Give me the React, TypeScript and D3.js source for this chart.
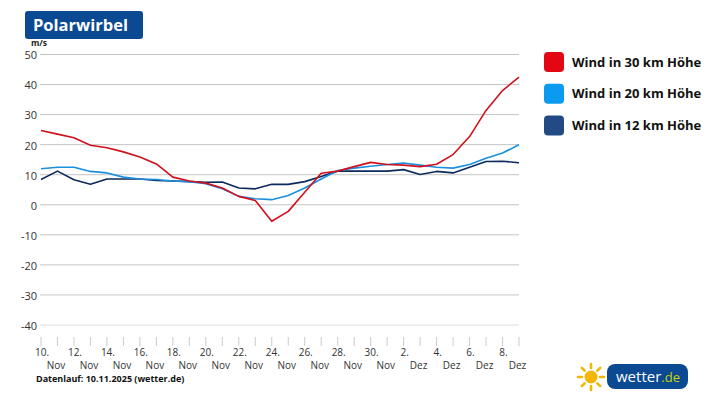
import React from 'react';
import * as d3 from 'd3';

// Days from 10. Nov to 9. Dez
const days = [10, 11, 12, 13, 14, 15, 16, 17, 18, 19, 20, 21, 22, 23, 24, 25, 26, 27, 28, 29, 30, 1, 2, 3, 4, 5, 6, 7, 8, 9];
const months = ['Nov', 'Nov', 'Nov', 'Nov', 'Nov', 'Nov', 'Nov', 'Nov', 'Nov', 'Nov', 'Nov', 'Nov', 'Nov', 'Nov', 'Nov', 'Nov', 'Nov', 'Nov', 'Nov', 'Nov', 'Nov', 'Dez', 'Dez', 'Dez', 'Dez', 'Dez', 'Dez', 'Dez', 'Dez', 'Dez'];

const wind30 = [24.7, 23.5, 22.3, 19.8, 19.0, 17.6, 15.9, 13.6, 9.2, 7.9, 7.2, 5.6, 2.8, 1.4, -5.5, -2.2, 4.2, 10.5, 11.2, 12.7, 14.1, 13.4, 13.2, 12.7, 13.5, 16.7, 22.7, 31.4, 38.0, 42.5];
const wind20 = [12.0, 12.5, 12.5, 11.1, 10.6, 9.2, 8.6, 8.4, 7.9, 7.7, 7.0, 5.3, 2.8, 2.0, 1.7, 3.1, 5.6, 8.6, 11.4, 12.2, 12.8, 13.4, 13.9, 13.2, 12.5, 12.2, 13.4, 15.5, 17.2, 20.0];
const wind12 = [8.4, 11.2, 8.3, 6.8, 8.6, 8.6, 8.6, 8.1, 7.9, 7.7, 7.5, 7.6, 5.6, 5.3, 6.8, 6.8, 7.7, 9.4, 11.2, 11.2, 11.2, 11.2, 11.7, 10.1, 11.1, 10.6, 12.5, 14.4, 14.5, 14.0];

const yTicks = [50, 40, 30, 20, 10, 0, -10, -20, -30, -40];

const series = [
  { name: 'Wind in 30 km Höhe', values: wind30, line: '#d0101c', swatch: '#e30613' },
  { name: 'Wind in 20 km Höhe', values: wind20, line: '#1a8fdf', swatch: '#0a9bf0' },
  { name: 'Wind in 12 km Höhe', values: wind12, line: '#0d2a5c', swatch: '#244a85' },
];

const W = 717;
const H = 403;
const font = '"Open Sans", "Noto Sans", sans-serif';

export default function App() {
  const x = d3.scaleLinear().domain([0, days.length - 1]).range([41, 519]);
  const y = d3.scaleLinear().domain([-40, 50]).range([325, 54.5]);

  const line = d3.line<number>()
    .x((d, i) => x(i))
    .y(d => y(d));

  const sunRays = d3.range(8).map(i => (i * Math.PI) / 4);

  return (
    <svg width={W} height={H} style={{ position: 'absolute', left: 0, top: 0, background: '#fff' }} fontFamily={font}>
      {/* title */}
      <rect x={25} y={11} width={118} height={28} rx={3} fill="#0b4a93" />
      <text x={33} y={31} fill="#fff" fontSize={16.5} fontWeight={700}>Polarwirbel</text>
      <text x={31} y={46} fill="#222" fontSize={8.5} fontWeight={700}>m/s</text>

      {/* grid + y labels */}
      {yTicks.map(t => (
        <g key={t}>
          <line x1={40} x2={519} y1={y(t)} y2={y(t)} stroke={t === -40 ? '#ddd' : '#c4c4c4'} strokeWidth={1} />
          <text x={37} y={y(t) + 1} dy="0.35em" textAnchor="end" fontSize={11} fill="#333">{t}</text>
        </g>
      ))}

      {/* x ticks */}
      {days.map((d, i) => (
        <line key={i} x1={x(i)} x2={x(i)} y1={337} y2={346} stroke="#ccc" strokeWidth={1} />
      ))}
      {days.map((d, i) => i % 2 === 0 ? (
        <g key={'l' + i} fontSize={10} fill="#333">
          <text x={x(i) + 1} y={356} textAnchor="middle">{d}.</text>
          <text x={x(i) + 15} y={369} textAnchor="middle">{months[i]}</text>
        </g>
      ) : null)}

      {/* lines */}
      {series.slice().reverse().map(s => (
        <path key={s.name} d={line(s.values) || ''} fill="none" stroke={s.line} strokeWidth={1.6} strokeLinejoin="round" />
      ))}

      {/* legend */}
      {series.map((s, i) => (
        <g key={s.name} transform={`translate(544,${52 + i * 31.7})`}>
          <rect width={20} height={20} rx={4} fill={s.swatch} />
          <text x={28} y={10} dy="0.35em" fontSize={13} fontWeight={700} fill="#111">{s.name}</text>
        </g>
      ))}

      {/* footer */}
      <text x={36} y={382} fontSize={9} fontWeight={700} fill="#111">Datenlauf: 10.11.2025 (wetter.de)</text>

      {/* logo */}
      <g transform="translate(591,377)">
        <circle r={6.5} fill="#f2b705" />
        {sunRays.map((a, i) => (
          <line key={i} x1={Math.cos(a) * 9} y1={Math.sin(a) * 9} x2={Math.cos(a) * 13} y2={Math.sin(a) * 13} stroke="#f2b705" strokeWidth={2.6} strokeLinecap="round" />
        ))}
      </g>
      <rect x={607} y={364} width={81} height={25} rx={8} fill="#0b4a93" />
      <text x={616} y={382} fontSize={15} fill="#fff">wetter<tspan fill="#c8d400" fontSize={13}>.de</tspan></text>
    </svg>
  );
}
